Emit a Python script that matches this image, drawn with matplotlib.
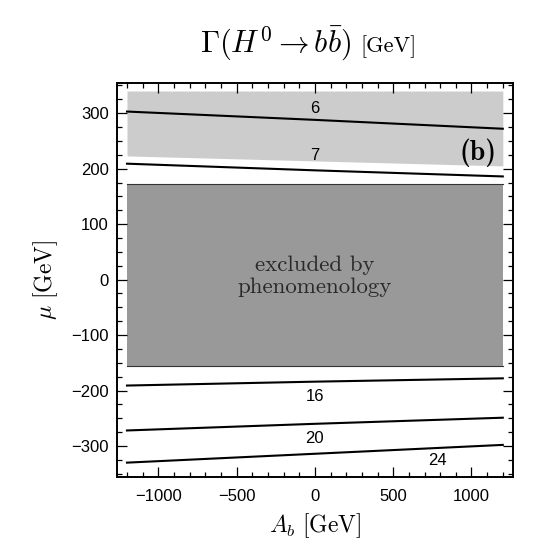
import numpy as np
import matplotlib
matplotlib.use("Agg")
import matplotlib.pyplot as plt
from matplotlib.ticker import MultipleLocator

plt.rcParams['mathtext.fontset'] = 'cm'
plt.rcParams['font.family'] = ['Liberation Sans', 'DejaVu Sans']

# contour lines of the width, mu as function of A_b
a_b = [-1200, 0, 1200]
mu_6 = [303, 288, 272]
mu_7 = [209, 197, 186]
mu_16 = [-191, -184, -178]
mu_20 = [-272, -260, -249]
mu_24 = [-330, -314, -298]

contour_labels = ["6", "7", "16", "20", "24"]
label_x = [0, 0, 0, 0, 780]
label_y = [309, 223, -211, -287, -327]

# shaded regions
band_top = [340, 340]
band_bottom = [223, 205]
band_x = [-1200, 1200]
excl_top = 173
excl_bottom = -155

fig = plt.figure(figsize=(5.45, 5.51), dpi=100)
ax = fig.add_axes([0.2152, 0.1352, 0.7252, 0.7147])

ax.fill_between(band_x, band_bottom, band_top, color="#cccccc", lw=0, zorder=1)
ax.fill_between(band_x, [excl_bottom] * 2, [excl_top] * 2, color="#999999", lw=0, zorder=1)
ax.plot(band_x, [excl_top] * 2, color="#333333", lw=0.8, zorder=2)
ax.plot(band_x, [excl_bottom] * 2, color="#333333", lw=0.8, zorder=2)

for mu in [mu_6, mu_7, mu_16, mu_20, mu_24]:
    ax.plot(a_b, mu, color="black", lw=1.5, zorder=3)

for lab, x, y in zip(contour_labels, label_x, label_y):
    ax.text(x, y, lab, ha="center", va="center", fontsize=12, zorder=4)

ax.text(0, 6, "excluded by\nphenomenology", family="cmr10", fontsize=16.5,
        color="#2a2a2a", ha="center", va="center", linespacing=1.2, zorder=4)
ax.text(1040, 228, "(b)", family="cmb10", fontsize=20, ha="center",
        va="center", zorder=4)

ax.set_xlim(-1262, 1262)
ax.set_ylim(-355, 355)

ax.xaxis.set_major_locator(MultipleLocator(500))
ax.xaxis.set_minor_locator(MultipleLocator(100))
ax.yaxis.set_major_locator(MultipleLocator(100))
ax.yaxis.set_minor_locator(MultipleLocator(25))
ax.tick_params(which="both", direction="in", top=True, right=True, width=0.9)
ax.tick_params(which="major", length=7, labelsize=12, pad=6)
ax.tick_params(axis="x", which="major", pad=9)
ax.tick_params(which="minor", length=3.5)
for s in ax.spines.values():
    s.set_linewidth(1.4)

ax.set_xlabel(r"$A_b\ \mathrm{[GeV]}$", fontsize=17, labelpad=5)
ax.set_ylabel(r"$\mu\ \mathrm{[GeV]}$", fontsize=17, labelpad=8)

fig.text(200 / 545, 0.905, r"$\Gamma(H^0 \rightarrow b\bar{b})$", fontsize=22,
         ha="left", va="baseline")
fig.text(360 / 545, 0.905, "[GeV]", family="cmr10", fontsize=16,
         ha="left", va="baseline")

plt.savefig("out.png", dpi=100)
